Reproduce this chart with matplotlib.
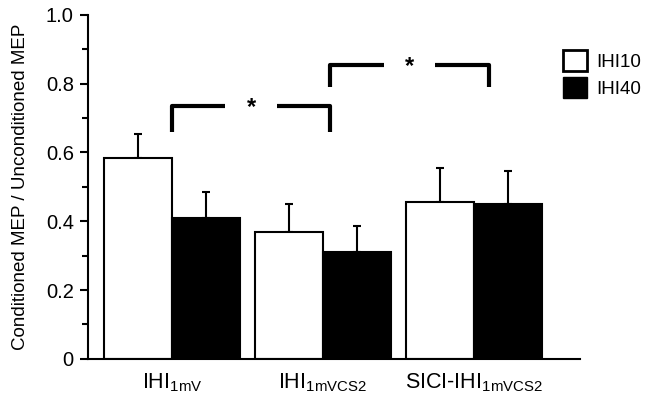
import numpy as np
import matplotlib
matplotlib.use('Agg')
import matplotlib.pyplot as plt
from matplotlib.ticker import MultipleLocator
from matplotlib.patches import Patch

plt.rcParams['font.family'] = ['Liberation Sans', 'DejaVu Sans']
plt.rcParams['mathtext.fontset'] = 'custom'
plt.rcParams['mathtext.rm'] = 'Liberation Sans'

groups = ['IHI$_{\\mathregular{1mV}}$', 'IHI$_{\\mathregular{1mVCS2}}$', 'SICI-IHI$_{\\mathregular{1mVCS2}}$']
ihi10 = [0.585, 0.37, 0.455]
ihi10_err = [0.07, 0.08, 0.10]
ihi40 = [0.41, 0.31, 0.45]
ihi40_err = [0.075, 0.075, 0.095]
yticks = [0, 0.2, 0.4, 0.6, 0.8, 1.0]
ytick_labels = ['0', '0.2', '0.4', '0.6', '0.8', '1.0']

# significance brackets: (x start, x end, bar height, drop)
brackets = [(0.0, 1.05, 0.735, 0.66), (1.05, 2.1, 0.855, 0.79)]

fig = plt.figure(figsize=(6.5, 4.01), dpi=100)
ax = fig.add_axes([0.135, 0.105, 0.757, 0.858])

x = np.arange(len(groups))
w = 0.45
ax.bar(x - w / 2, ihi10, w, color='white', edgecolor='black', linewidth=1.5, label='IHI10', zorder=2)
ax.bar(x + w / 2, ihi40, w, color='black', edgecolor='black', linewidth=1.5, label='IHI40', zorder=2)
ax.errorbar(x - w / 2, ihi10, yerr=[np.zeros(3), ihi10_err], fmt='none', ecolor='black',
            elinewidth=1.5, capsize=3, capthick=1.5, zorder=1)
ax.errorbar(x + w / 2, ihi40, yerr=[np.zeros(3), ihi40_err], fmt='none', ecolor='black',
            elinewidth=1.5, capsize=3, capthick=1.5, zorder=1)

for x0, x1, top, bot in brackets:
    mid = (x0 + x1) / 2
    ax.plot([x0, x0, mid - 0.17], [bot, top, top], color='black', lw=3, solid_capstyle='butt')
    ax.plot([mid + 0.17, x1, x1], [top, top, bot], color='black', lw=3, solid_capstyle='butt')
    ax.text(mid, top - 0.005, '*', ha='center', va='center', fontsize=17, fontweight='bold')

ax.set_xlim(-0.556, 2.70)
ax.set_ylim(0, 1.0)
ax.spines['top'].set_visible(False)
ax.spines['right'].set_visible(False)
ax.spines['left'].set_linewidth(1.5)
ax.spines['bottom'].set_linewidth(1.5)
ax.set_yticks(yticks, ytick_labels)
ax.yaxis.set_minor_locator(MultipleLocator(0.1))
ax.tick_params(axis='y', which='major', length=6, width=1.5, labelsize=14.5, pad=4)
ax.tick_params(axis='y', which='minor', length=4, width=1.5)
ax.set_xticks(x)
ax.set_xticklabels(groups, fontsize=15.5)
ax.tick_params(axis='x', length=0, pad=9)
ax.set_ylabel('Conditioned MEP / Unconditioned MEP', fontsize=13.5, labelpad=12)

handles = [Patch(facecolor='white', edgecolor='black', linewidth=2, label='IHI10'),
           Patch(facecolor='black', edgecolor='black', label='IHI40')]
fig.legend(handles=handles, loc='upper left', bbox_to_anchor=(0.866, 0.875), frameon=False,
           fontsize=13.5, handlelength=1.3, handleheight=1.3, handletextpad=0.5, labelspacing=0.35,
           borderaxespad=0, borderpad=0)

fig.savefig('out.png', dpi=100)
